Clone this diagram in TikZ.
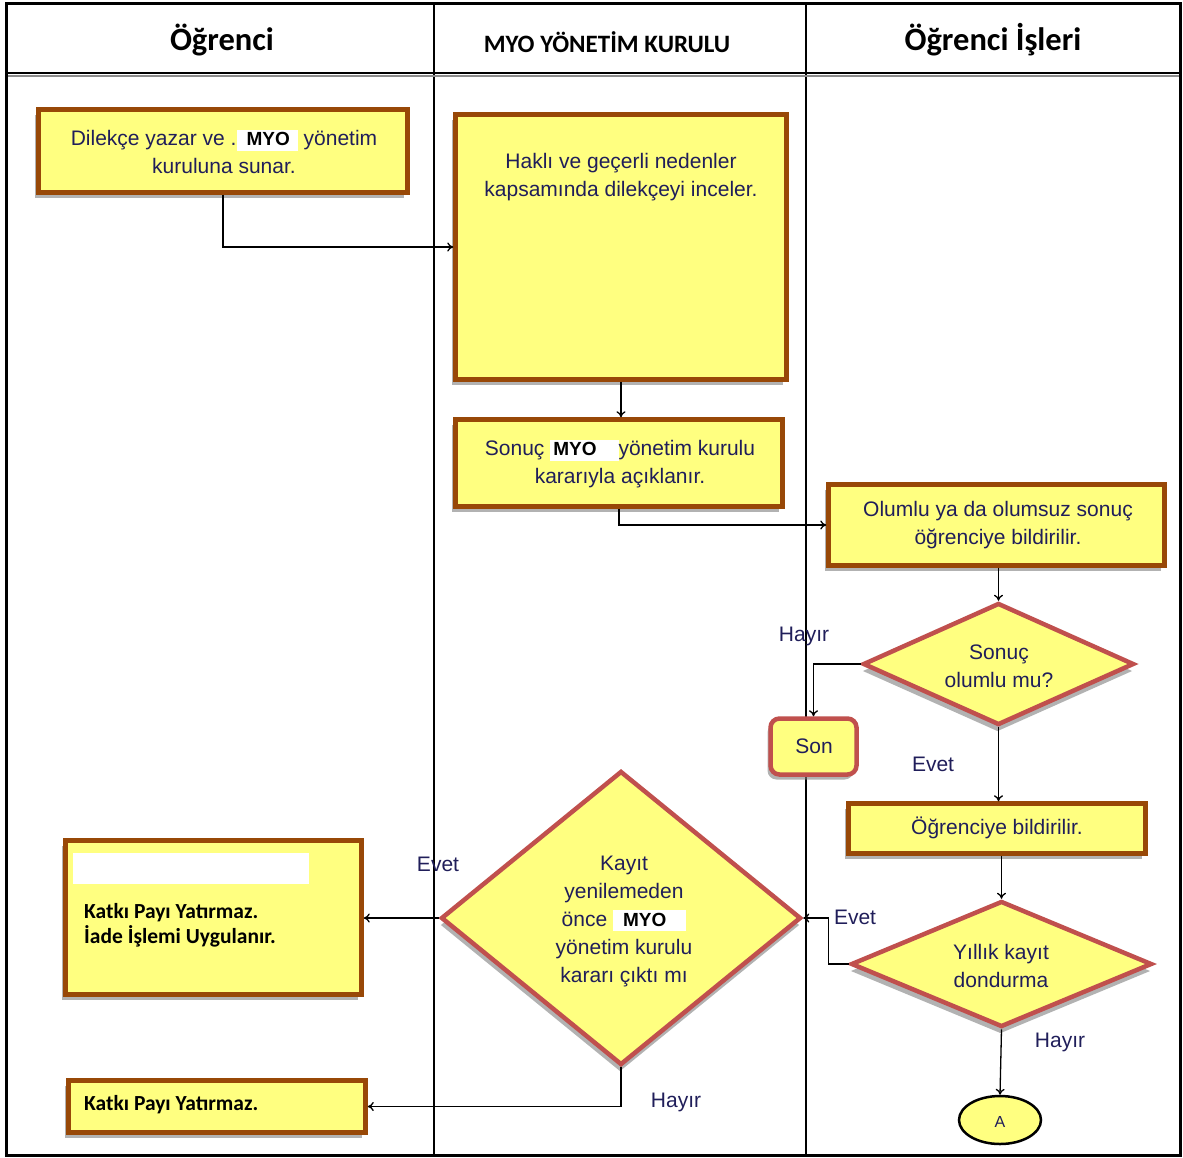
\documentclass[tikz,border=0pt]{standalone}
\usepackage{fontspec}
\setmainfont{Liberation Sans}
\newfontfamily\calfont{Carlito}
\usetikzlibrary{shapes.geometric,shadows,arrows.meta,calc}
\definecolor{boxbrown}{RGB}{152,72,7}
\definecolor{boxfill}{RGB}{255,255,128}
\definecolor{dred}{RGB}{192,80,77}
\definecolor{navy}{RGB}{32,30,90}
\newcommand{\myomark}[2]{{\setlength{\fboxsep}{0pt}\colorbox{white}{\rule[-5pt]{0pt}{21pt}\hspace{#1}\textcolor{black}{\bfseries\fontsize{19}{21}\selectfont MYO}\hspace{#2}}}}
\begin{document}
\begin{tikzpicture}[x=1pt,y=-1pt,
  box/.style={draw=boxbrown, line width=4.5pt, fill=boxfill, inner sep=0pt,
    drop shadow={shadow xshift=-4pt, shadow yshift=-5pt, fill=black!50, opacity=.6}},
  dia/.style={diamond, draw=dred, line width=4.5pt, fill=boxfill, inner sep=0pt,
    drop shadow={shadow xshift=-1pt, shadow yshift=-7pt, fill=black!50, opacity=.6}},
  sonbox/.style={rectangle, rounded corners=9pt, draw=dred, line width=4.5pt, fill=boxfill, inner sep=0pt,
    drop shadow={shadow xshift=-3pt, shadow yshift=-5pt, fill=black!50, opacity=.6}},
  txt/.style={font=\fontsize{21}{28}\selectfont, text=navy, align=center, inner sep=0pt},
  ktxt/.style={font=\calfont\bfseries\fontsize{21.5}{25}\selectfont, text=black, align=left, inner sep=0pt, anchor=west},
  lbl/.style={font=\fontsize{21}{24}\selectfont, text=navy, inner sep=0pt},
  head/.style={font=\calfont\bfseries\fontsize{32.5}{34}\selectfont, text=black, inner sep=0pt},
  lane/.style={line width=1.4pt, black},
  arr/.style={line width=1.3pt, -{To[length=6pt,width=9pt]}}
]
\useasboundingbox[fill=white] (0,0) rectangle (1183,1157);
% lanes
\draw[lane] (434,3) coordinate (l1t) -- (434,1155) coordinate (l1b);
\draw[lane] (806,3) coordinate (l2t) -- (806,1155) coordinate (l2b);
\draw[line width=1.6pt, black] (7,73) coordinate (h1) -- (1179,73) coordinate (h2);
\draw[line width=2pt, black!45] (7,75.5) coordinate (h3) -- (1179,75.5) coordinate (h4);
\draw[line width=3pt, black] (6,3) coordinate (fa) rectangle (1180,1155) coordinate (fb);
% headers
\node[head] (hd1) at (222,40) {Öğrenci};
\node[head, font=\calfont\bfseries\fontsize{25}{27}\selectfont] (hd2) at (607,42) {MYO YÖNETİM KURULU};
\node[head] (hd3) at (993,40) {Öğrenci İşleri};
% boxes
\node[box, minimum width=369pt, minimum height=83pt] (b1) at (223,151) {};
\node[txt] (t1) at (224,152) {Dilekçe yazar ve .\myomark{10pt}{8pt} yönetim\\kuruluna sunar.};
\node[box, minimum width=331pt, minimum height=265pt] (b2) at (621,247) {};
\node[txt] (t2) at (621,177) {Haklı ve geçerli nedenler\\kapsamında dilekçeyi inceler.};
\node[box, minimum width=327pt, minimum height=87pt] (b3) at (619,463) {};
\node[txt] (t3) at (620,464) {Sonuç \myomark{3pt}{22pt}yönetim kurulu\\kararıyla açıklanır.};
\node[box, minimum width=336pt, minimum height=81pt] (b4) at (996.5,525) {};
\node[txt] (t4) at (998,525) {Olumlu ya da olumsuz sonuç\\öğrenciye bildirilir.};
\node[dia, minimum width=271pt, minimum height=122pt] (d1) at (998.5,664) {};
\node[txt] (t5) at (999,666) {Sonuç\\olumlu mu?};
\node[sonbox, minimum width=86pt, minimum height=56pt] (son) at (813.5,746.5) {};
\node[txt] (t6) at (814,746) {Son};
\node[box, minimum width=297pt, minimum height=50pt] (b5) at (997,828.5) {};
\node[txt] (t7) at (997,828) {Öğrenciye bildirilir.};
\node[dia, minimum width=301pt, minimum height=126pt] (d2) at (1001.5,964) {};
\node[txt] (t8) at (1001,966) {Yıllık kayıt\\dondurma};
\node[ellipse, draw=black, line width=2.5pt, fill=boxfill, minimum width=82pt, minimum height=48pt, inner sep=0pt] (ea) at (1000,1120) {};
\node[txt, font=\fontsize{16}{18}\selectfont] (t9) at (1000,1122) {A};
\node[dia, minimum width=360pt, minimum height=294pt] (d3) at (621,918) {};
\node[txt] (t10) at (624,921) {Kayıt\\yenilemeden\\önce \myomark{10pt}{20pt}\\yönetim kurulu\\kararı çıktı mı};
\node[box, minimum width=296pt, minimum height=154pt] (b6) at (213.5,917.5) {};
\fill[white] (73,853) coordinate (w1) rectangle (309,884) coordinate (w2);
\node[ktxt] (t11) at (84,925) {Katkı Payı Yatırmaz.\\İade İşlemi Uygulanır.};
\node[box, minimum width=297pt, minimum height=52pt] (b7) at (217,1106.5) {};
\node[ktxt] (t12) at (84,1105) {Katkı Payı Yatırmaz.};
% labels
\node[lbl] (l1) at (804,636) {Hayır};
\node[lbl] (l2) at (933,764) {Evet};
\node[lbl] (l3) at (438,864) {Evet};
\node[lbl] (l4) at (855,917) {Evet};
\node[lbl] (l5) at (1060,1042) {Hayır};
\node[lbl] (l6) at (676,1102) {Hayır};
% connectors
\draw[arr] (b1.south) |- (b2.west);
\draw[arr] (b2.south) -- (b2.south |- b3.north);
\draw[arr] (b3.south) |- (b4.west);
\draw[arr] (d1.north |- b4.south) -- (d1.north);
\draw[arr] (d1.west) -| (son.north);
\draw[arr] (d1.south) -- (d1.south |- b5.north);
\draw[arr] (d2.north |- b5.south) -- (d2.north);
\draw[arr] (d2.west) -- ++(-20,0) |- (d3.east);
\draw[arr] (d2.south) -- (ea.north);
\draw[arr] (d3.west) -- (d3.west -| b6.east);
\draw[arr] (d3.south) |- (b7.east);
\end{tikzpicture}
\end{document}
